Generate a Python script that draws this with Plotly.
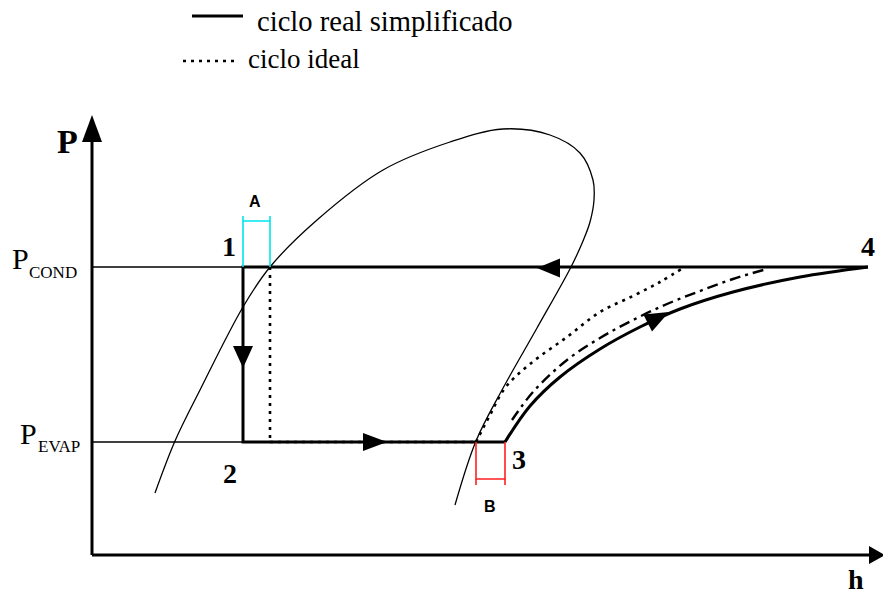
"""
Diagrama P-h simplificado: ciclo real vs ciclo ideal de refrigeración.
"""
import math
import plotly.graph_objects as go

# curva de saturación (campana)
dome_h = [155, 175, 200, 243, 270, 317, 383, 450, 503, 550, 580, 593, 594, 590, 583, 571, 537, 502, 476, 455]
dome_p = [493, 441, 390, 307, 267, 220, 170, 142, 129, 135, 153, 180, 200, 222, 241, 267, 328, 390, 441, 505]

# niveles de presión
p_cond = 267
p_evap = 442
h_axis0 = 92

# ciclo real simplificado: 4 -> 1 -> 2 -> 3
real_h = [868, 243, 243, 505]
real_p = [p_cond, p_cond, p_evap, p_evap]

# compresión real 3 -> 4
comp_real_h = [505, 530, 560, 600, 640, 680, 733, 800, 868]
comp_real_p = [442, 406, 377, 349, 327, 309, 292, 277, 267]

# ciclo ideal
ideal_exp_h = [270, 270]
ideal_exp_p = [p_cond, p_evap]
comp_ideal_h = [476, 490, 505, 530, 567, 600, 633, 660, 683]
comp_ideal_p = [442, 415, 388, 364, 337, 312, 296, 282, 268]

# compresión intermedia (trazo-punto)
comp_mid_h = [512, 533, 567, 600, 633, 667, 700, 733, 767]
comp_mid_p = [420, 392, 360, 338, 320, 304, 291, 279, 269]

# flechas: punta (h, p), dirección, largo, ancho
arrows = [
    (92, 115, (0, -1), 27, 20),
    (885, 555, (1, 0), 16, 18),
    (537, 268, (-1, 0), 23, 19),
    (243, 368, (0, 1), 22, 20),
    (387, 442, (1, 0), 24, 18),
    (669, 312, (0.89, -0.46), 24, 19),
]

fig = go.Figure()


def line(x, y, width=1.3, dash="solid", color="black", shape="linear"):
    fig.add_trace(go.Scatter(x=x, y=y, mode="lines", hoverinfo="skip",
                             line=dict(color=color, width=width, dash=dash, shape=shape)))


# ejes
line([h_axis0, h_axis0], [555, 135], width=3)
line([h_axis0, 872], [555, 555], width=3)

# líneas de presión finas
line([h_axis0, 243], [p_cond, p_cond], width=1.3)
line([h_axis0, 243], [p_evap, p_evap], width=1.3)

# campana
line(dome_h, dome_p, width=1.3, shape="spline")

# ciclo ideal
line(ideal_exp_h, ideal_exp_p, width=2.6, dash="3px,5px")
line([270, 476], [p_evap, p_evap], width=2.6, dash="3px,5px")
line(comp_ideal_h, comp_ideal_p, width=2.6, dash="3px,5px", shape="spline")
line(comp_mid_h, comp_mid_p, width=2.4, dash="11px,5px,3px,5px", shape="spline")

# ciclo real
line(real_h, real_p, width=3)
line(comp_real_h, comp_real_p, width=3, shape="spline")

# corchetes A y B
line([243, 243, 270, 270], [p_cond, 221, 221, p_cond], width=1.6, color="#00e5ee")
line([243, 243], [216, 221], width=1.6, color="#00e5ee")
line([270, 270], [216, 221], width=1.6, color="#00e5ee")
line([476, 476, 505, 505], [p_evap, 479, 479, p_evap], width=1.6, color="#ff2020")
line([476, 476], [479, 485], width=1.6, color="#ff2020")
line([505, 505], [479, 485], width=1.6, color="#ff2020")

# leyenda
line([192, 243], [16, 16], width=3)
line([183, 237], [61, 61], width=2.6, dash="3px,5px")

shapes = []
for tx, ty, (dx, dy), ln, wd in arrows:
    n = math.hypot(dx, dy)
    ux, uy = dx / n, dy / n
    bx, by = tx - ux * ln, ty - uy * ln
    px, py = -uy * wd / 2, ux * wd / 2
    shapes.append(dict(
        type="path", xref="x", yref="y", fillcolor="black", line=dict(width=0),
        path=f"M{tx},{ty} L{bx + px},{by + py} L{bx - px},{by - py} Z"))

serif = "Liberation Serif"


def text(x, y, s, size, bold=False, family=serif, xanchor="center", color="black"):
    if bold:
        s = f"<b>{s}</b>"
    return dict(x=x, y=y, xref="x", yref="y", text=s, showarrow=False,
                xanchor=xanchor, yanchor="middle",
                font=dict(family=family, size=size, color=color))


annotations = [
    text(255, 21, "ciclo real simplificado", 28.6, xanchor="left"),
    text(246, 59, "ciclo ideal", 27, xanchor="left"),
    text(67, 141, "P", 34, bold=True),
    text(856, 579, "h", 28, bold=True),
    text(20, 258, "P", 30),
    text(27, 272, "COND", 17, xanchor="left"),
    text(28, 433, "P", 30),
    text(36, 446, "EVAP", 17, xanchor="left"),
    text(229, 246, "1", 28, bold=True),
    text(230, 473, "2", 28, bold=True),
    text(519, 459, "3", 28, bold=True),
    text(868, 246, "4", 28, bold=True),
    text(255, 201, "A", 16, bold=True, family="Liberation Sans"),
    text(490, 506, "B", 16, bold=True, family="Liberation Sans"),
]

# ejes en píxeles de la ventana (0..883, 0..594)
fig.update_layout(
    width=883, height=594,
    margin=dict(l=0, r=0, t=0, b=0),
    paper_bgcolor="white", plot_bgcolor="white",
    showlegend=False,
    xaxis=dict(range=[0, 883], visible=False, fixedrange=True),
    yaxis=dict(range=[594, 0], visible=False, fixedrange=True),
    shapes=shapes,
    annotations=annotations,
)

# sin margen de página para que la figura ocupe toda la ventana
fig.write_html("out.html", config={"displayModeBar": False},
               post_script="document.body.style.margin='0';")
